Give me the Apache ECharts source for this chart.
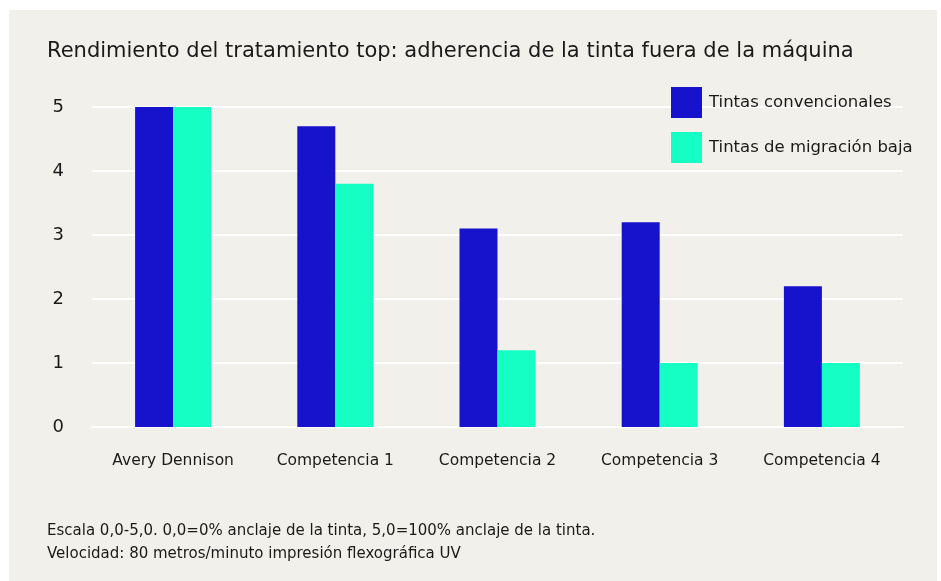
<!DOCTYPE html>
<html><head><meta charset="utf-8">
<script src="https://cdn.jsdelivr.net/npm/echarts@6/dist/echarts.min.js"></script>
<style>html,body{margin:0;padding:0;background:#fff}#c{width:941px;height:581px}</style>
</head><body><div id="c"></div>
<script>
const categories = ['Avery Dennison','Competencia 1','Competencia 2','Competencia 3','Competencia 4'];
const convencionales = [5.0, 4.7, 3.1, 3.2, 2.2];
const migracionBaja = [5.0, 3.8, 1.2, 1.0, 1.0];
const seriesNames = ['Tintas convencionales','Tintas de migración baja'];
const titleText = 'Rendimiento del tratamiento top: adherencia de la tinta fuera de la máquina';
const footer1 = 'Escala 0,0-5,0. 0,0=0% anclaje de la tinta, 5,0=100% anclaje de la tinta.';
const footer2 = 'Velocidad: 80 metros/minuto impresión flexográfica UV';
const F = '"DejaVu Sans", sans-serif';
const chart = echarts.init(document.getElementById('c'));
chart.setOption({
  animation:false,
  backgroundColor:'#ffffff',
  graphic:[
    {type:'rect',left:9,top:10,shape:{width:928,height:571},style:{fill:'#f1f0ea'},z:-10},
    {type:'text',left:47,top:41,style:{text:titleText,font:'400 21px '+F,fill:'#1a1a1a'}},
    {type:'text',left:47,top:524,style:{text:footer1,font:'400 15px '+F,fill:'#1a1a1a'}},
    {type:'text',left:47,top:547,style:{text:footer2,font:'400 15px '+F,fill:'#1a1a1a'}}
  ],
  legend:{orient:'vertical',left:671,top:87,padding:0,itemWidth:31,itemHeight:31,itemGap:14,
    icon:'rect',textStyle:{fontFamily:F,fontSize:16.5,color:'#1a1a1a',padding:[0,0,0,2]},
    data:seriesNames},
  grid:{left:92,right:38,top:107,bottom:154,containLabel:false},
  xAxis:{type:'category',data:categories,axisLine:{show:true,lineStyle:{color:'#ffffff',width:2}},
    axisTick:{show:false},axisLabel:{interval:0,margin:26,fontFamily:F,fontSize:15.5,color:'#1a1a1a'}},
  yAxis:{type:'value',min:0,max:5,interval:1,axisLine:{show:false},axisTick:{show:false},
    splitLine:{lineStyle:{color:'#ffffff',width:2}},
    axisLabel:{margin:28,fontFamily:F,fontSize:18,color:'#1a1a1a'}},
  series:[
    {name:seriesNames[0],type:'bar',data:convencionales,barWidth:38,barGap:'0%',itemStyle:{color:'#1712cb'}},
    {name:seriesNames[1],type:'bar',data:migracionBaja,barWidth:38,barGap:'0%',itemStyle:{color:'#15ffc4'}}
  ]
});
</script></body></html>
